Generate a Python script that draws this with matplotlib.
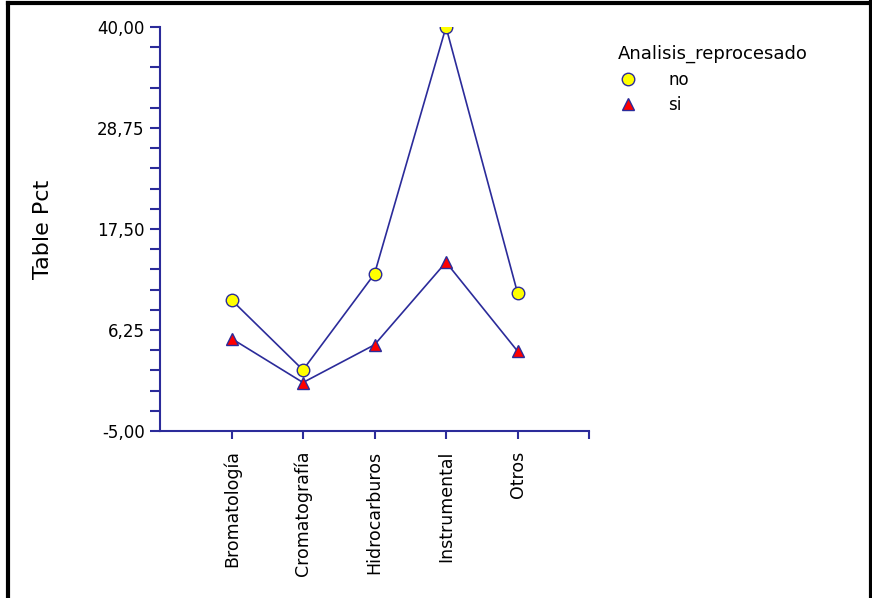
import matplotlib
matplotlib.use('Agg')
import matplotlib.pyplot as plt
from matplotlib.lines import Line2D
from matplotlib.ticker import FixedLocator

plt.rcParams['font.family'] = ['DejaVu Sans']

categories = ['Bromatología', 'Cromatografía', 'Hidrocarburos', 'Instrumental', 'Otros']
no_vals = [9.6, 1.8, 12.5, 40.0, 10.4]
si_vals = [5.3, 0.4, 4.6, 13.8, 3.9]
yticks = [-5.0, 6.25, 17.5, 28.75, 40.0]
ytick_labels = ['-5,00', '6,25', '17,50', '28,75', '40,00']

navy = '#2b2b9a'

fig = plt.figure(figsize=(8.72, 5.98), dpi=100)
ax = fig.add_axes([160 / 872, 1 - 431 / 598, 429 / 872, 404 / 598])

x = list(range(1, len(categories) + 1))
ax.plot(x, no_vals, color=navy, lw=1.2, marker='o', ms=9,
        mfc='#ffff00', mec=navy, mew=1, label='no', zorder=3)
ax.plot(x, si_vals, color=navy, lw=1.2, marker='^', ms=9,
        mfc='#ff0000', mec=navy, mew=1, label='si', zorder=3)

ax.set_xlim(0, 6)
ax.set_ylim(-5, 40)
ax.set_xticks(x)
ax.set_xticklabels(categories, rotation=90, fontsize=12.5)
ax.set_yticks(yticks)
ax.set_yticklabels(ytick_labels, fontsize=12)
# 4 minor ticks between majors
minor = [yticks[0] + i * (yticks[1] - yticks[0]) / 5 for i in range(21) if i % 5]
ax.yaxis.set_minor_locator(FixedLocator(minor))
ax.xaxis.set_minor_locator(FixedLocator([6]))

for s in ['top', 'right']:
    ax.spines[s].set_visible(False)
for s in ['left', 'bottom']:
    ax.spines[s].set_color(navy)
    ax.spines[s].set_linewidth(1.5)
ax.tick_params(axis='y', which='both', direction='out', length=7, width=1.5, color=navy, pad=4)
ax.tick_params(axis='x', which='both', direction='out', length=6, width=1.5, color=navy, pad=8)

ax.set_ylabel('Table Pct', fontsize=16, labelpad=32)

leg = ax.legend(loc='upper left', bbox_to_anchor=(603 / 872, 1 - 30 / 598),
                bbox_transform=fig.transFigure, frameon=False,
                title='Analisis_reprocesado', fontsize=12, title_fontsize=13,
                handlelength=1.2, handletextpad=1.8, labelspacing=0.45,
                alignment='left')
for h in leg.legend_handles:
    h.set_linestyle('none')

# figure frame (left, top, right)
for xs, ys in [([8 / 872, 8 / 872], [0, 1 - 3 / 598]),
               ([8 / 872, 1], [1 - 3 / 598, 1 - 3 / 598]),
               ([1 - 1.5 / 872, 1 - 1.5 / 872], [0, 1])]:
    fig.add_artist(Line2D(xs, ys, color='black', lw=3, transform=fig.transFigure))

fig.savefig('out.png', dpi=100)
